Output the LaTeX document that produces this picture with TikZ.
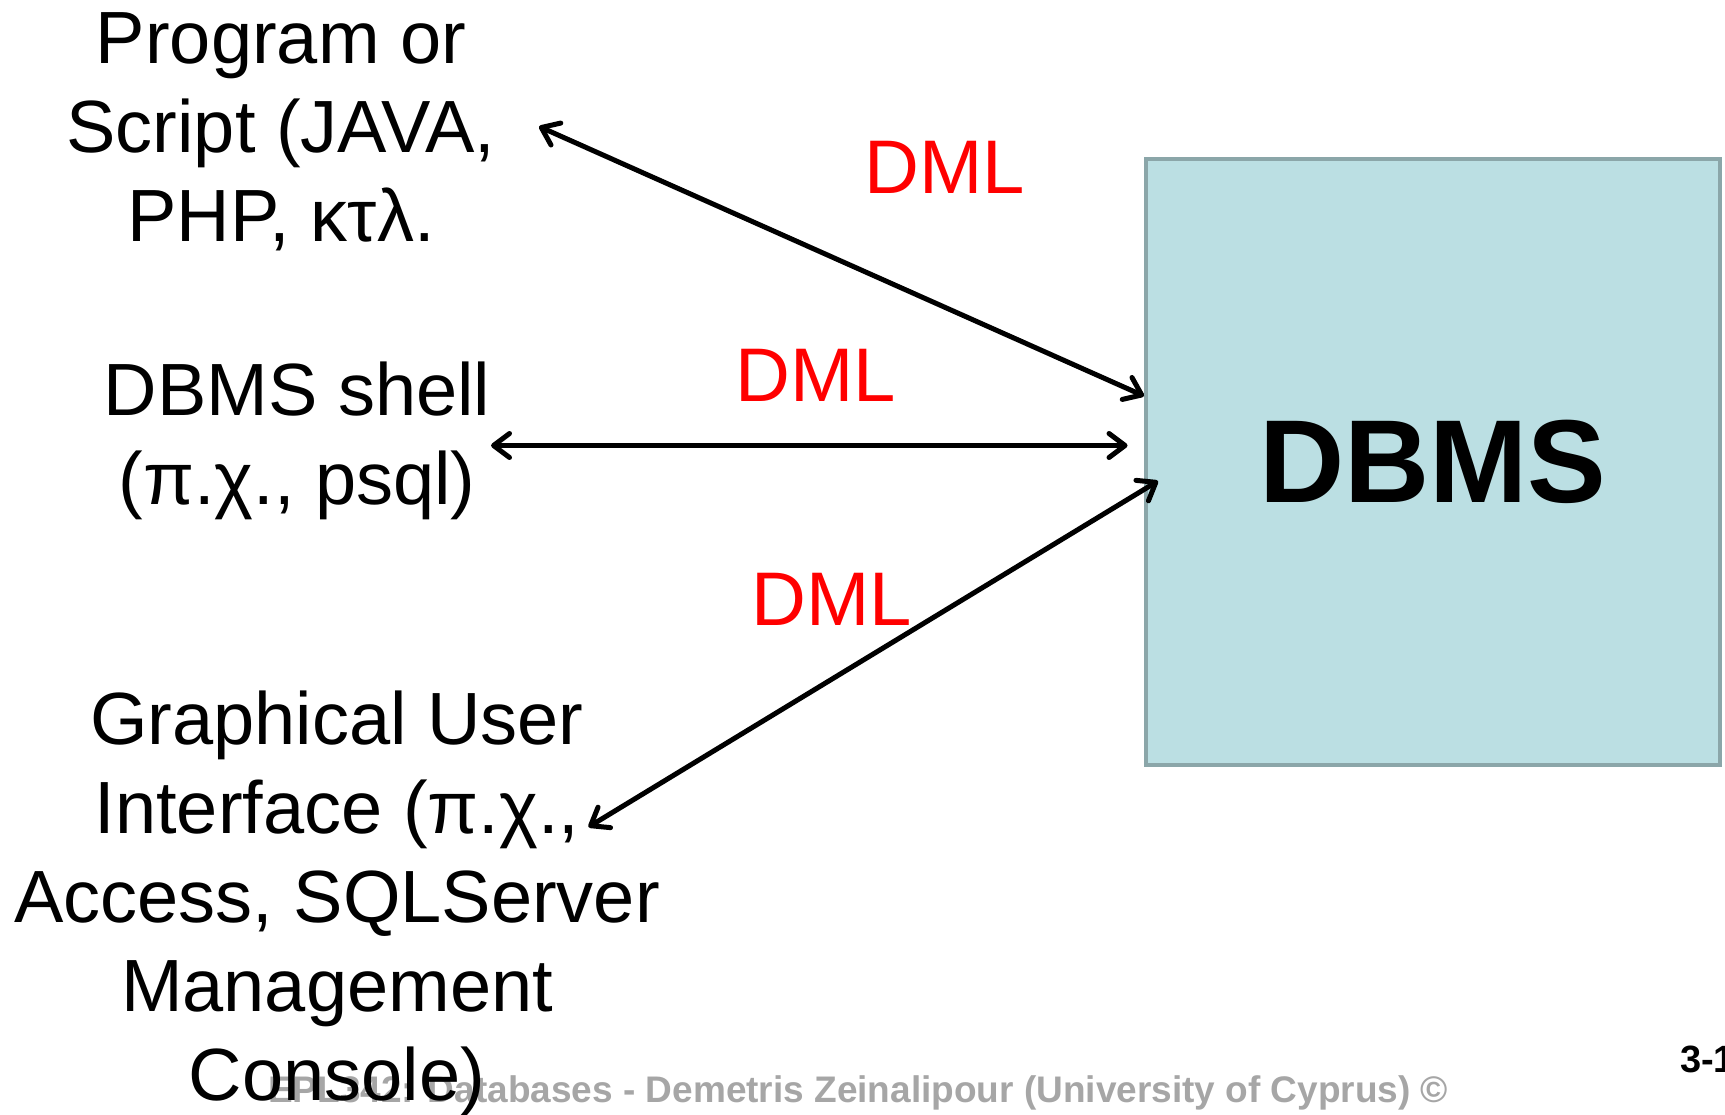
\documentclass[tikz,border=0pt]{standalone}
\usepackage{fontspec}
\setmainfont{Liberation Sans}
\usetikzlibrary{arrows.meta}
\definecolor{boxfill}{HTML}{BBDFE3}
\definecolor{boxline}{HTML}{8BA6A9}
\definecolor{footgray}{HTML}{A6A6A6}
\definecolor{dmlred}{HTML}{FF0000}
\begin{document}
\begin{tikzpicture}[x=1pt,y=-1pt,
  srcbox/.style={align=center,anchor=base,inner sep=0pt,font=\fontsize{74}{89}\selectfont},
  dmllabel/.style={anchor=base,inner sep=0pt,text=dmlred,font=\fontsize{76}{90}\selectfont},
  dbmsbox/.style={draw=boxline,fill=boxfill,line width=3.5pt,minimum width=574pt,minimum height=606pt,inner sep=0pt,font=\fontsize{118}{130}\selectfont\bfseries},
  link/.style={line width=5pt,{Straight Barb[length=16pt,width=24pt,line cap=round,line join=round]}-{Straight Barb[length=16pt,width=24pt,line cap=round,line join=round]}},
  footer/.style={anchor=base west,inner sep=0pt,text=footgray,font=\fontsize{37}{40}\selectfont\bfseries}
]
\useasboundingbox (0,0) rectangle (1725,1115);
\node[footer] (foot) at (268,1102) {EPL342: Databases - Demetris Zeinalipour (University of Cyprus) ©};
\node[anchor=base west,inner sep=0pt,font=\fontsize{38}{40}\selectfont\bfseries] (page) at (1680,1072) {3-1};
\node[dbmsbox] (dbms) at (1433,462) {DBMS};
\node[srcbox] (prog) at (281,242) {Program or\\Script (JAVA,\\PHP, κτλ.};
\node[srcbox] (shell) at (297,504) {DBMS shell\\(π.χ., psql)};
\node[srcbox] (gui) at (337,1100) {Graphical User\\Interface (π.χ.,\\Access, SQLServer\\Management\\Console)};
\node[dmllabel] (dml1) at (945,194) {DML};
\node[dmllabel] (dml2) at (816,401) {DML};
\node[dmllabel] (dml3) at (832,625) {DML};
\draw[link] ([shift={(258,-115.5)}]prog.base) -- ([shift={(-289,-66)}]dbms.center);
\draw[link] ([shift={(194,-58.5)}]shell.base) -- ([shift={(-305.5,-16.5)}]dbms.center);
\draw[link] ([shift={(251.5,-273)}]gui.base) -- ([shift={(-275,19)}]dbms.center);
\end{tikzpicture}
\end{document}
